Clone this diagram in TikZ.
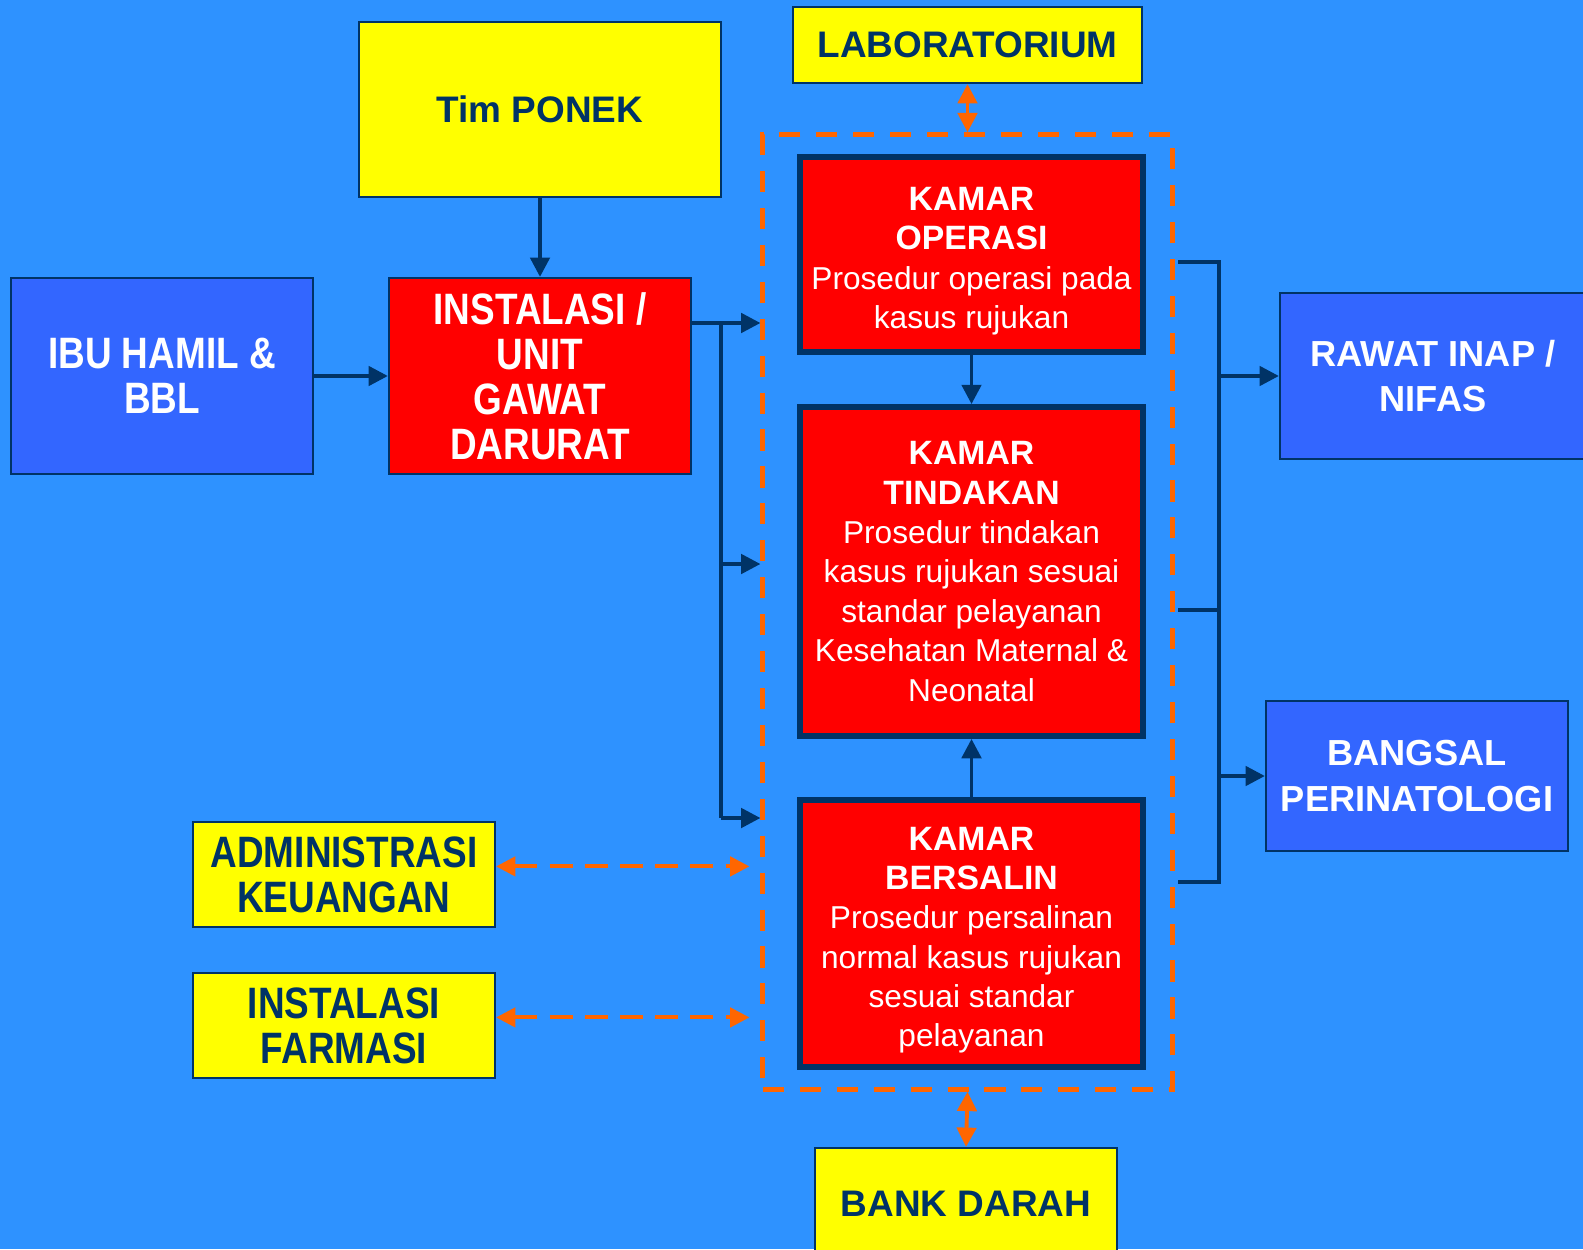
\documentclass[tikz,border=0pt]{standalone}
\usepackage{fontspec}
\setmainfont{Liberation Sans}
\newfontfamily\narrowfont{Liberation Sans}[FakeStretch=0.84]
\usetikzlibrary{arrows.meta}
\definecolor{bgblue}{HTML}{2E92FF}
\definecolor{boxblue}{HTML}{3366FF}
\definecolor{navy}{HTML}{003366}
\definecolor{orangeline}{HTML}{FF6600}
\definecolor{boxyellow}{HTML}{FFFF00}
\newcommand{\kmtitle}[1]{{\fontsize{9.6}{11.5}\selectfont\bfseries #1}}
\newcommand{\kmhead}[1]{\rule{0pt}{10.4pt}\kmtitle{#1}}

\begin{document}
\begin{tikzpicture}[x=0.01cm,y=-0.01cm,
    box/.style={draw=navy,line width=0.6pt,inner sep=0pt,align=center},
    yellowbox/.style={box,fill=boxyellow,text=navy,font=\fontsize{10.5}{12.9}\selectfont\bfseries},
    narrowbox/.style={box,font=\fontsize{12.5}{12.8}\selectfont\narrowfont\bfseries},
    bluebox/.style={box,fill=boxblue,text=white,font=\fontsize{10.3}{12.9}\selectfont\bfseries},
    kamar/.style={draw=navy,line width=1.6pt,fill=red,text=white,inner sep=0pt,align=center,
      minimum width=3.43cm,font=\fontsize{9}{11.2}\selectfont},
    dashframe/.style={draw=orangeline,line width=1.4pt,dash pattern=on 6pt off 4.5pt,
      minimum width=4.09cm,minimum height=9.54cm,inner sep=0pt},
    conn/.style={draw=navy,line width=1.1pt},
    tip/.style={-{Triangle[length=5.5pt,width=5.5pt]}},
    link/.style={draw=orangeline,line width=1.1pt,dash pattern=on 6.5pt off 3.5pt,
      {Triangle[length=5.5pt,width=5.5pt]}-{Triangle[length=5.5pt,width=5.5pt]}}]
    \fill[bgblue] (0,0) rectangle (1583,1249);
    \useasboundingbox (0,0) rectangle (1583,1249);
    % boxes
    \node[yellowbox,minimum width=3.62cm,minimum height=1.75cm] (ponek) at (540,109.5) {Tim PONEK};
    \node[yellowbox,minimum width=3.49cm,minimum height=0.76cm] (lab) at (967.5,45) {LABORATORIUM};
    \node[narrowbox,fill=boxblue,text=white,minimum width=3.02cm,minimum height=1.96cm] (ibu) at (162,376) {IBU HAMIL \&\\BBL};
    \node[narrowbox,fill=red,text=white,minimum width=3.02cm,minimum height=1.96cm] (igd) at (540,376) {INSTALASI /\\UNIT\\GAWAT\\DARURAT};
    \node[dashframe] (area) at (967.5,612) {};
    \node[kamar,minimum height=1.95cm] (ko) at (971.5,254.5) {\kmhead{KAMAR}\\\kmtitle{OPERASI}\\Prosedur operasi pada\\kasus rujukan};
    \node[kamar,minimum height=3.29cm] (kt) at (971.5,571.5) {\kmtitle{KAMAR}\\\kmtitle{TINDAKAN}\\Prosedur tindakan\\kasus rujukan sesuai\\standar pelayanan\\Kesehatan Maternal \&\\Neonatal};
    \node[kamar,minimum height=2.67cm] (kb) at (971.5,933.5) {\kmhead{KAMAR}\\\kmtitle{BERSALIN}\\Prosedur persalinan\\normal kasus rujukan\\sesuai standar\\pelayanan};
    \node[bluebox,minimum width=3.06cm,minimum height=1.66cm] (ranap) at (1433,376) {RAWAT INAP /\\NIFAS};
    \node[bluebox,minimum width=3.02cm,minimum height=1.50cm] (bangsal) at (1417,776) {BANGSAL\\PERINATOLOGI};
    \node[narrowbox,fill=boxyellow,text=navy,minimum width=3.02cm,minimum height=1.05cm] (adm) at (344,874.5) {ADMINISTRASI\\KEUANGAN};
    \node[narrowbox,fill=boxyellow,text=navy,minimum width=3.02cm,minimum height=1.05cm] (farm) at (344,1025.5) {INSTALASI\\FARMASI};
    \node[yellowbox,minimum width=3.02cm,minimum height=1.12cm] (bank) at (966,1204) {BANK DARAH};
    % navy connectors
    \coordinate (j1) at (721,323);
    \coordinate (j2) at (721,564);
    \coordinate (j3) at (721,818);
    \coordinate (r1) at (1219,262);
    \coordinate (r2) at (1219,610);
    \coordinate (r3) at (1219,882);
    \draw[conn,tip] (ponek.south) -- (igd.north);
    \draw[conn,tip] (ibu.east) -- (igd.west);
    \draw[conn] (igd.east |- j1) -- (j1) -- (j3);
    \draw[conn,tip] (j1) -- (area.west |- j1);
    \draw[conn,tip] (j2) -- (area.west |- j2);
    \draw[conn,tip] (j3) -- (area.west |- j3);
    \draw[conn,tip] (ko.south) -- (kt.north);
    \draw[conn,tip] (kb.north) -- (kt.south);
    \draw[conn] ([xshift=1pt]area.east |- r1) -- (r1) -- (r3) -- ([xshift=1pt]area.east |- r3);
    \draw[conn] ([xshift=1pt]area.east |- r2) -- (r2);
    \draw[conn,tip] (r1 |- ranap.west) -- (ranap.west);
    \draw[conn,tip] (r1 |- bangsal.west) -- (bangsal.west);
    % orange links
    \draw[link] (lab.south) -- (area.north);
    \draw[link] (area.south) -- (bank.north);
    \draw[link,shorten >=0.11cm] ([yshift=2.3pt]adm.east) -- ([yshift=2.3pt]area.west |- adm.east);
    \draw[link,shorten >=0.11cm] ([yshift=2.3pt]farm.east) -- ([yshift=2.3pt]area.west |- farm.east);
\end{tikzpicture}
\end{document}
